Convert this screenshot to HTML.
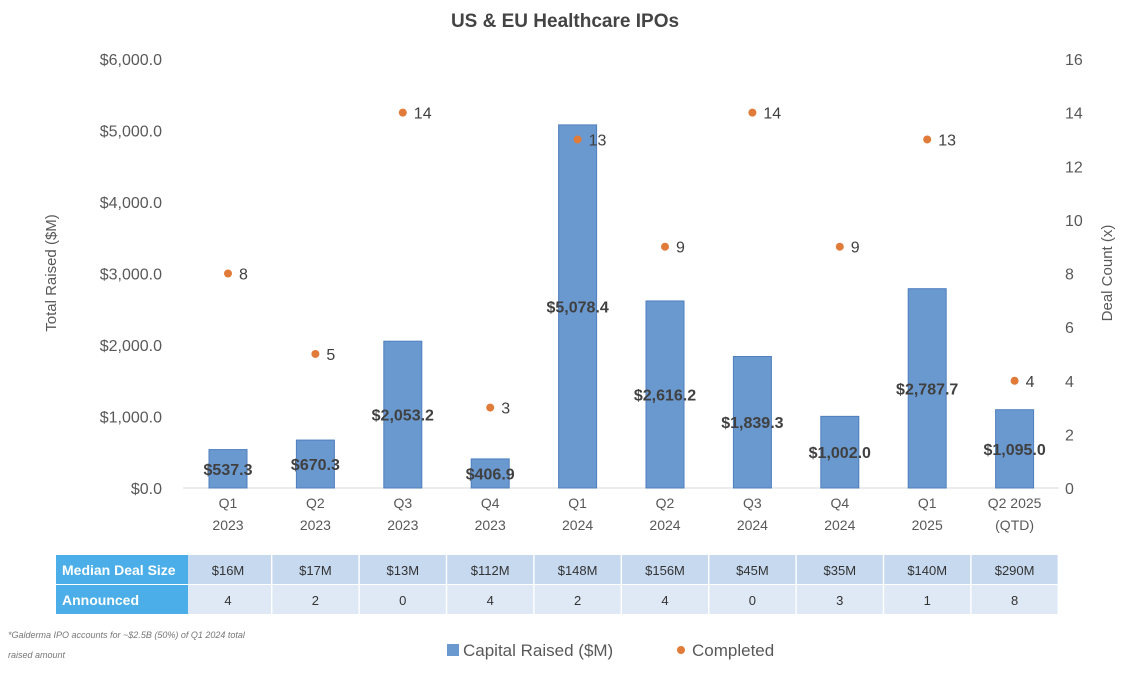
<!DOCTYPE html>
<html><head><meta charset="utf-8"><style>
body{margin:0;background:#fff;font-family:"Liberation Sans",sans-serif;}
svg text{font-family:"Liberation Sans",sans-serif;}
</style></head><body>
<svg id="c" width="1134" height="680" viewBox="0 0 1134 680">
<text x="565" y="27" text-anchor="middle" font-size="19" font-weight="bold" fill="#444">US &amp; EU Healthcare IPOs</text>
<text transform="translate(56,273) rotate(-90)" text-anchor="middle" font-size="15" fill="#595959">Total Raised ($M)</text>
<text transform="translate(1112,273) rotate(-90)" text-anchor="middle" font-size="15" fill="#595959">Deal Count (x)</text>
<line x1="183" y1="488" x2="1059" y2="488" stroke="#d9d9d9"/>
<g id="g"></g>
<rect x="56" y="555" width="132" height="29" fill="#4baee8"/>
<text x="62" y="575" font-size="14" font-weight="bold" fill="#fff">Median Deal Size</text>
<rect x="56" y="585" width="132" height="29" fill="#4baee8"/>
<text x="62" y="605" font-size="14" font-weight="bold" fill="#fff">Announced</text>
<text x="8" y="638" font-size="9" font-style="italic" fill="#777">*Galderma IPO accounts for ~$2.5B (50%) of Q1 2024 total</text>
<text x="8" y="658" font-size="9" font-style="italic" fill="#777">raised amount</text>
<rect x="447" y="644" width="12" height="12" fill="#6a99d0"/>
<text x="463" y="656" font-size="17" fill="#595959">Capital Raised ($M)</text>
<circle cx="681" cy="650" r="4" fill="#e07b39"/>
<text x="692" y="656" font-size="17" fill="#595959">Completed</text>
</svg>
<script>
const cats1=["Q1","Q2","Q3","Q4","Q1","Q2","Q3","Q4","Q1","Q2 2025"];
const cats2=["2023","2023","2023","2023","2024","2024","2024","2024","2025","(QTD)"];
const raised=[537.3,670.3,2053.2,406.9,5078.4,2616.2,1839.3,1002.0,2787.7,1095.0];
const completed=[8,5,14,3,13,9,14,9,13,4];
const median=["$16M","$17M","$13M","$112M","$148M","$156M","$45M","$35M","$140M","$290M"];
const announced=[4,2,0,4,2,4,0,3,1,8];
const leftTicks=[0,1000,2000,3000,4000,5000,6000];
const rightTicks=[0,2,4,6,8,10,12,14,16];
const NS="http://www.w3.org/2000/svg",g=document.getElementById('g');
const y0=488,yTop=59;
const yL=v=>y0-(v/6000)*(y0-yTop), yR=v=>y0-(v/16)*(y0-yTop);
const xC=i=>228+i*87.4;
function mk(t,a,txt){const e=document.createElementNS(NS,t);for(const k in a)e.setAttribute(k,a[k]);if(txt!=null)e.textContent=txt;g.appendChild(e);return e;}
const fmt=v=>'$'+v.toLocaleString('en-US',{minimumFractionDigits:1,maximumFractionDigits:1});
leftTicks.forEach(v=>{const e=mk('text',{x:162,y:yL(v)+6,'text-anchor':'end','font-size':16,fill:'#595959'},fmt(v));

});
rightTicks.forEach(v=>{const e=mk('text',{x:1065,y:yR(v)+6,'font-size':16,fill:'#595959'},v);

});
raised.forEach((v,i)=>{const x=xC(i);
const b=mk('rect',{x:x-19,y:yL(v),width:38,height:y0-yL(v),fill:'#6a99d0',stroke:'#4f7fbf','stroke-width':1});


const l=mk('text',{x:x,y:(yL(v)+y0)/2+6,'text-anchor':'middle','font-size':16,'font-weight':'bold',fill:'#404040'},fmt(v));


const t1=mk('text',{x:x,y:508,'text-anchor':'middle','font-size':14,fill:'#595959'},cats1[i]);


const t2=mk('text',{x:x,y:530,'text-anchor':'middle','font-size':14,fill:'#595959'},cats2[i]);


const c=mk('circle',{cx:x,cy:yR(completed[i]),r:4,fill:'#e07b39'});


const cl=mk('text',{x:x+11,y:yR(completed[i])+6,'font-size':16,fill:'#404040'},completed[i]);


const r1=mk('rect',{x:x-43,y:555,width:86,height:29,fill:'#c6d9ef'});


const m=mk('text',{x:x,y:575,'text-anchor':'middle','font-size':13,fill:'#333'},median[i]);


const r2=mk('rect',{x:x-43,y:585,width:86,height:29,fill:'#dfe9f5'});


const a=mk('text',{x:x,y:605,'text-anchor':'middle','font-size':13,fill:'#333'},announced[i]);


});
</script>
</body></html>
